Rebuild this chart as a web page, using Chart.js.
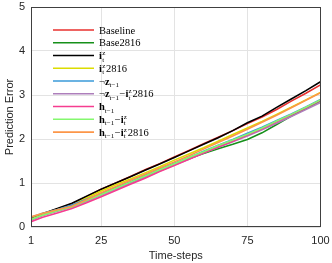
<!DOCTYPE html>
<html>
<head>
<meta charset="utf-8">
<script src="https://cdn.jsdelivr.net/npm/chart.js@4.4.0/dist/chart.umd.min.js"></script>
<style>
html, body { margin: 0; padding: 0; background: #fff; }
#wrap { width: 332px; height: 263px; }
</style>
</head>
<body>
<div id="wrap"><canvas id="c" width="332" height="263"></canvas></div>
<script>
// time steps where values were read
const steps = [1, 5, 10, 15, 20, 25, 30, 35, 40, 45, 50, 55, 60, 65, 70, 75, 80, 85, 90, 95, 100];
const xTicks = [1, 25, 50, 75, 100];
const yTicks = [0, 1, 2, 3, 4, 5];

const baseline    = [0.19, 0.30, 0.41, 0.53, 0.69, 0.86, 1.00, 1.15, 1.30, 1.44, 1.59, 1.74, 1.89, 2.04, 2.19, 2.35, 2.50, 2.67, 2.86, 3.04, 3.23];
const base2816    = [0.17, 0.27, 0.38, 0.48, 0.61, 0.74, 0.88, 1.01, 1.15, 1.29, 1.43, 1.55, 1.67, 1.78, 1.88, 1.99, 2.14, 2.33, 2.52, 2.70, 2.87];
const iz          = [0.20, 0.30, 0.42, 0.54, 0.70, 0.86, 1.00, 1.14, 1.29, 1.43, 1.58, 1.73, 1.88, 2.03, 2.19, 2.37, 2.52, 2.72, 2.91, 3.10, 3.30];
const iz2816      = [0.18, 0.28, 0.39, 0.49, 0.66, 0.82, 0.96, 1.09, 1.23, 1.37, 1.52, 1.66, 1.80, 1.95, 2.10, 2.25, 2.40, 2.56, 2.72, 2.89, 3.06];
const notZ        = [0.22, 0.31, 0.40, 0.50, 0.63, 0.76, 0.90, 1.03, 1.17, 1.31, 1.45, 1.58, 1.72, 1.86, 1.99, 2.13, 2.27, 2.42, 2.57, 2.73, 2.90];
const notZiz2816  = [0.16, 0.26, 0.36, 0.45, 0.58, 0.72, 0.86, 0.99, 1.13, 1.27, 1.41, 1.54, 1.68, 1.81, 1.94, 2.07, 2.21, 2.36, 2.51, 2.67, 2.83];
const hPrev       = [0.12, 0.22, 0.32, 0.42, 0.55, 0.69, 0.83, 0.97, 1.11, 1.26, 1.40, 1.54, 1.68, 1.82, 1.95, 2.09, 2.23, 2.39, 2.55, 2.71, 2.88];
const hPrevIz     = [0.17, 0.27, 0.37, 0.46, 0.60, 0.74, 0.88, 1.02, 1.16, 1.30, 1.44, 1.58, 1.71, 1.85, 1.98, 2.11, 2.25, 2.41, 2.56, 2.72, 2.89];
const hPrevIz2816 = [0.23, 0.31, 0.39, 0.47, 0.62, 0.78, 0.92, 1.06, 1.20, 1.34, 1.48, 1.62, 1.77, 1.92, 2.07, 2.22, 2.38, 2.54, 2.71, 2.88, 3.05];

const seriesNames = ["Baseline", "Base2816", "i_t^z", "i_t^z2816", "¬z_{t−1}", "¬z_{t−1}−i_t^z2816", "h_{t−1}", "h_{t−1}−i_t^z", "h_{t−1}−i_t^z2816"];
const seriesData = [baseline, base2816, iz, iz2816, notZ, notZiz2816, hPrev, hPrevIz, hPrevIz2816];
const seriesColors = ["#e8302e", "#16901a", "#000000", "#dcdc00", "#3a9ad8", "#ad7fbb", "#f53d90", "#84f86e", "#fc9648"];

// rich text pieces for the legend (bold letters, sub/superscripts)
const legendRich = [
  [["n", "Baseline"]],
  [["n", "Base2816"]],
  [["b", "i"], ["ss", "t", "z"]],
  [["b", "i"], ["ss", "t", "z"], ["n", "2816"]],
  [["n", "¬"], ["b", "z"], ["sub", "t−1"]],
  [["n", "¬"], ["b", "z"], ["sub", "t−1"], ["n", "−"], ["b", "i"], ["ss", "t", "z"], ["n", "2816"]],
  [["b", "h"], ["sub", "t−1"]],
  [["b", "h"], ["sub", "t−1"], ["n", "−"], ["b", "i"], ["ss", "t", "z"]],
  [["b", "h"], ["sub", "t−1"], ["n", "−"], ["b", "i"], ["ss", "t", "z"], ["n", "2816"]]
];

const SERIF = '"Liberation Serif", "DejaVu Serif", serif';

function drawRich(ctx, tokens, x, y) {
  for (const t of tokens) {
    if (t[0] === "n" || t[0] === "b") {
      ctx.font = (t[0] === "b" ? "bold " : "") + "10.5px " + SERIF;
      ctx.fillText(t[1], x, y);
      x += ctx.measureText(t[1]).width;
    } else if (t[0] === "sub") {
      ctx.font = "7px " + SERIF;
      ctx.fillText(t[1], x, y + 2.5);
      x += ctx.measureText(t[1]).width + 0.5;
    } else if (t[0] === "ss") {
      ctx.font = "7px " + SERIF;
      ctx.fillText(t[1], x + 0.3, y + 2.5);
      ctx.fillText(t[2], x + 0.3, y - 4);
      x += Math.max(ctx.measureText(t[1]).width, ctx.measureText(t[2]).width) + 1;
    }
  }
}

const boxAndLegend = {
  id: "boxAndLegend",
  afterDraw(chart) {
    const ctx = chart.ctx;
    const a = chart.chartArea;
    ctx.save();
    ctx.strokeStyle = "#404040";
    ctx.lineWidth = 1;
    ctx.strokeRect(Math.round(a.left) + 0.5, Math.round(a.top) + 0.5, Math.round(a.right - a.left) - 1, Math.round(a.bottom - a.top) - 1);

    // legend, top-left inside the axes
    const x0 = 53, x1 = 94, tx = 99, y0 = 30, dy = 12.76;
    ctx.textBaseline = "alphabetic";
    seriesNames.forEach((name, i) => {
      const y = y0 + i * dy;
      ctx.strokeStyle = seriesColors[i];
      ctx.lineWidth = 1.6;
      ctx.beginPath();
      ctx.moveTo(x0, y);
      ctx.lineTo(x1, y);
      ctx.stroke();
      ctx.fillStyle = "#000";
      drawRich(ctx, legendRich[i], tx, y + 3.5);
    });
    ctx.restore();
  }
};

const datasets = seriesData.map((vals, i) => ({
  label: seriesNames[i],
  data: steps.map((s, k) => ({ x: s, y: vals[k] })),
  borderColor: seriesColors[i],
  backgroundColor: seriesColors[i],
  borderWidth: 1.6,
  pointRadius: 0,
  tension: 0,
  fill: false,
  order: -i
}));

const ctx = document.getElementById("c").getContext("2d");
new Chart(ctx, {
  type: "line",
  data: { datasets },
  options: {
    responsive: false,
    devicePixelRatio: 1,
    animation: false,
    layout: { padding: { left: 0, right: 11.5, top: 7, bottom: 0 } },
    plugins: {
      legend: { display: false },
      tooltip: { enabled: false }
    },
    scales: {
      x: {
        type: "linear",
        min: 1,
        max: 100,
        afterBuildTicks: s => { s.ticks = xTicks.map(v => ({ value: v })); },
        afterFit: s => { s.height = 36; s.paddingLeft = 0; s.paddingRight = 0; },
        grid: { color: "#e3e3e3", drawTicks: false },
        border: { display: false },
        ticks: { padding: 7, color: "#262626", font: { family: "Liberation Sans", size: 11 }, maxRotation: 0 },
        title: { display: true, text: "Time-steps", color: "#262626", padding: { top: 0, bottom: 0 }, font: { family: "Liberation Sans", size: 11 } }
      },
      y: {
        min: 0,
        max: 5,
        afterBuildTicks: s => { s.ticks = yTicks.map(v => ({ value: v })); },
        afterFit: s => { s.width = 31; s.paddingTop = 0; s.paddingBottom = 0; },
        grid: { color: "#e3e3e3", drawTicks: false },
        border: { display: false },
        ticks: { padding: 6, color: "#262626", font: { family: "Liberation Sans", size: 11 } },
        title: { display: true, text: "Prediction Error", color: "#262626", padding: { top: 3.5, bottom: 0 }, font: { family: "Liberation Sans", size: 11 } }
      }
    }
  },
  plugins: [boxAndLegend]
});
</script>
</body>
</html>
